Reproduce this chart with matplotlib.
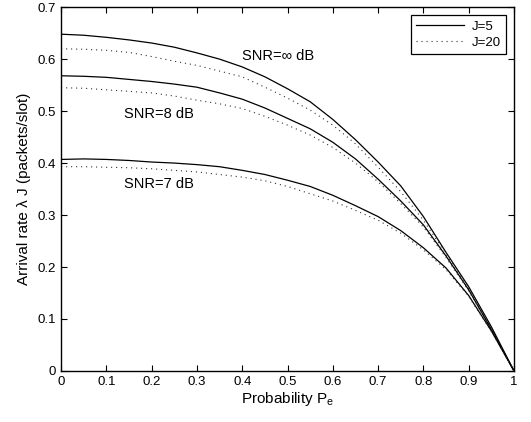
import matplotlib
matplotlib.use("Agg")
import matplotlib.pyplot as plt

plt.rcParams['font.family'] = ['Liberation Sans', 'DejaVu Sans']
plt.rcParams['mathtext.default'] = 'regular'

pe = [0.0, 0.05, 0.1, 0.15, 0.2, 0.25, 0.3, 0.35, 0.4, 0.45, 0.5,
      0.55, 0.6, 0.65, 0.7, 0.75, 0.8, 0.85, 0.9, 0.95, 1.0]

inf_j5 = [0.648, 0.646, 0.642, 0.637, 0.631, 0.623, 0.612, 0.600, 0.585, 0.566, 0.543,
          0.518, 0.484, 0.445, 0.402, 0.356, 0.297, 0.228, 0.162, 0.085, 0.0]
inf_j20 = [0.620, 0.619, 0.617, 0.613, 0.605, 0.596, 0.588, 0.577, 0.566, 0.546, 0.525,
           0.502, 0.473, 0.437, 0.392, 0.345, 0.290, 0.225, 0.158, 0.080, 0.0]
snr8_j5 = [0.568, 0.567, 0.565, 0.561, 0.557, 0.552, 0.546, 0.535, 0.523, 0.506, 0.486,
           0.466, 0.440, 0.408, 0.369, 0.327, 0.281, 0.221, 0.156, 0.080, 0.0]
snr8_j20 = [0.545, 0.544, 0.541, 0.538, 0.535, 0.529, 0.521, 0.514, 0.505, 0.490, 0.473,
            0.454, 0.430, 0.400, 0.364, 0.322, 0.277, 0.218, 0.154, 0.079, 0.0]
snr7_j5 = [0.407, 0.408, 0.407, 0.405, 0.402, 0.400, 0.397, 0.393, 0.386, 0.378, 0.367,
           0.355, 0.338, 0.318, 0.297, 0.270, 0.237, 0.198, 0.145, 0.077, 0.0]
snr7_j20 = [0.393, 0.393, 0.392, 0.391, 0.389, 0.386, 0.383, 0.378, 0.373, 0.366, 0.355,
            0.341, 0.327, 0.309, 0.290, 0.265, 0.233, 0.195, 0.143, 0.076, 0.0]

labels = ["SNR=\u221e dB", "SNR=8 dB", "SNR=7 dB"]
label_pos = [(0.40, 0.606), (0.139, 0.494), (0.14, 0.36)]
legend_labels = ["J=5", "J=20"]

fig = plt.figure(figsize=(5.31, 4.22), dpi=100)
ax = fig.add_axes([0.115, 0.121, 0.853, 0.862])

solid_kw = dict(color='black', linewidth=0.9, linestyle='-')
dot_kw = dict(color='#333333', linewidth=0.8, linestyle=(0, (1, 3.5)))

l1, = ax.plot(pe, inf_j5, **solid_kw)
l2, = ax.plot(pe, inf_j20, **dot_kw)
ax.plot(pe, snr8_j5, **solid_kw)
ax.plot(pe, snr8_j20, **dot_kw)
ax.plot(pe, snr7_j5, **solid_kw)
ax.plot(pe, snr7_j20, **dot_kw)

for t, (x, y) in zip(labels, label_pos):
    ax.text(x, y, t, fontsize=10.5, ha='left', va='center')

ax.set_xlim(0, 1)
ax.set_ylim(0, 0.7)
ax.set_xticks([0, 0.1, 0.2, 0.3, 0.4, 0.5, 0.6, 0.7, 0.8, 0.9, 1])
ax.set_xticklabels(['0', '0.1', '0.2', '0.3', '0.4', '0.5', '0.6', '0.7', '0.8', '0.9', '1'])
ax.set_yticks([0, 0.1, 0.2, 0.3, 0.4, 0.5, 0.6, 0.7])
ax.set_yticklabels(['0', '0.1', '0.2', '0.3', '0.4', '0.5', '0.6', '0.7'])
ax.tick_params(direction='in', top=True, right=True, length=4, width=0.8,
               labelsize=9.5, pad=4)
for s in ax.spines.values():
    s.set_linewidth(1.0)

ax.set_xlabel("Probability P$_e$", fontsize=11, labelpad=1)
ax.set_ylabel("Arrival rate \u03bb J (packets/slot)", fontsize=11, labelpad=4)

leg = ax.legend([l1, l2], legend_labels, loc='upper right', fontsize=9.5,
                frameon=True, fancybox=False, edgecolor='black', framealpha=1,
                handlelength=3.6, borderaxespad=0.6, handletextpad=0.6,
                borderpad=0.4, labelspacing=0.3)
leg.get_frame().set_linewidth(0.9)

fig.savefig("out.png", dpi=100)
